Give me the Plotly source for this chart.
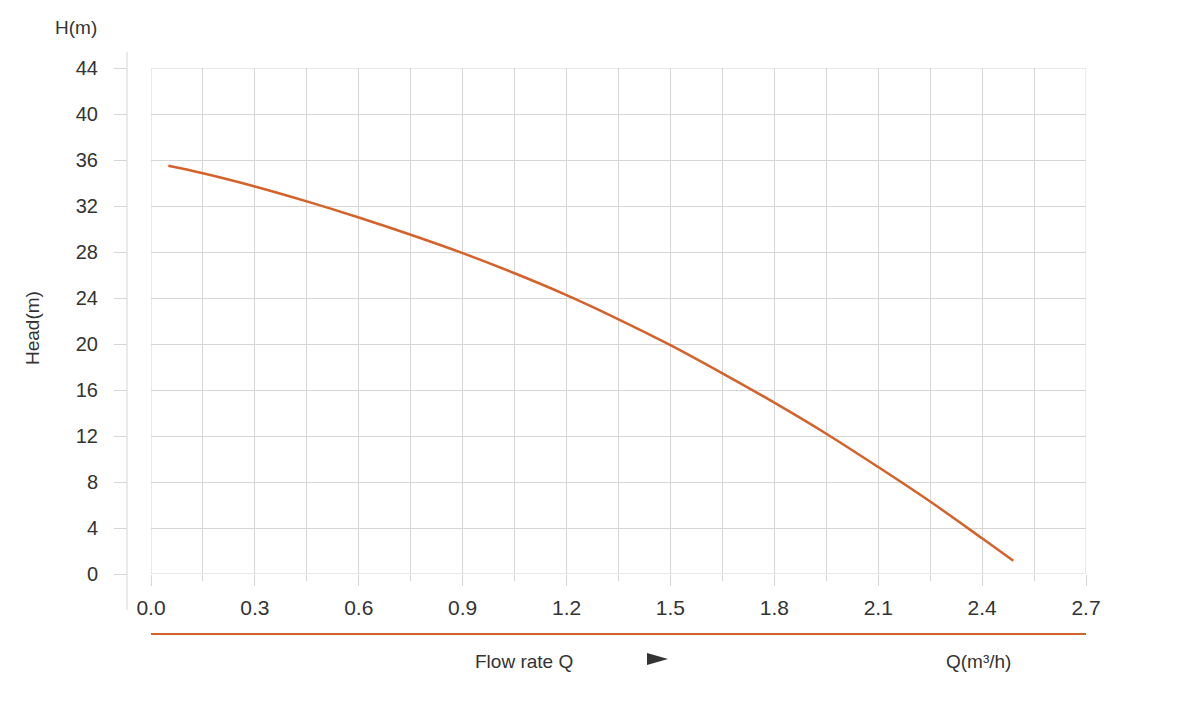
import plotly.graph_objects as go

# pump curve
flow_q = [0.05, 0.15, 0.30, 0.45, 0.60, 0.75, 0.90, 1.05, 1.20, 1.35,
          1.50, 1.65, 1.80, 1.95, 2.10, 2.25, 2.40, 2.49]
head_h = [35.5, 34.85, 33.7, 32.4, 31.0, 29.5, 27.9, 26.15, 24.25, 22.15,
          19.9, 17.45, 14.9, 12.2, 9.3, 6.3, 3.1, 1.15]

x_ticks = [0.0, 0.3, 0.6, 0.9, 1.2, 1.5, 1.8, 2.1, 2.4, 2.7]
y_ticks = [0, 4, 8, 12, 16, 20, 24, 28, 32, 36, 40, 44]

W, H = 1196, 722
OFF = 8  # page body margin shifts the figure by this much
ML, MR, MT, MB = 127 - OFF, 118, 68 - OFF, 156
PW = W - ML - MR
PH = H - MT - MB
ORANGE = "#d4622b"
GRID = "#d6d6d6"
TXT = "#333333"
FONT = "Liberation Sans"


# screen pixel -> paper coords
def px(x):
    return (x - OFF - ML) / PW


def py(y):
    return (H - MB - (y - OFF)) / PH


def label(text, x, y, **kw):
    return dict(text=text, xref="paper", yref="paper", x=px(x), y=py(y),
                xanchor="center", yanchor="middle", showarrow=False,
                font=dict(size=19, color=TXT), **kw)


def edge(**kw):
    return dict(type="line", layer="below", line=dict(color=GRID, width=1), **kw)


fig = go.Figure()
fig.add_trace(go.Scatter(
    x=flow_q, y=head_h, mode="lines", line=dict(color=ORANGE, width=2.5, shape="spline"),
    showlegend=False, hoverinfo="x+y",
))

fig.update_layout(
    width=W, height=H,
    margin=dict(l=ML, r=MR, t=MT, b=MB),
    paper_bgcolor="white", plot_bgcolor="white",
    font=dict(family=FONT, color=TXT),
    xaxis=dict(
        domain=[px(151), 1], range=[0, 2.7],
        tickvals=x_ticks, ticktext=[f"{v:.1f}" for v in x_ticks],
        showgrid=True, gridcolor=GRID, gridwidth=1,
        ticks="outside", ticklen=11, tickcolor=GRID, tickwidth=1,
        ticklabelstandoff=4,
        minor=dict(dtick=0.15, tick0=0, showgrid=True, gridcolor=GRID,
                   ticks="outside", ticklen=6, tickcolor=GRID),
        tickfont=dict(size=21, color=TXT),
        showline=False, zeroline=False, fixedrange=True,
    ),
    yaxis=dict(
        anchor="free", position=0, range=[0, 44],
        tickvals=y_ticks,
        showgrid=True, gridcolor=GRID, gridwidth=1,
        ticks="outside", ticklen=13, tickcolor=GRID, tickwidth=1,
        ticklabelstandoff=12,
        tickfont=dict(size=20, color=TXT),
        showline=False, zeroline=False, fixedrange=True,
    ),
    shapes=[
        # outer grid lines that plotly leaves out at the range edges
        edge(xref="x", yref="y", x0=0, x1=0, y0=0, y1=44),
        edge(xref="x", yref="y", x0=2.7, x1=2.7, y0=0, y1=44),
        edge(xref="x", yref="y", x0=0, x1=2.7, y0=0, y1=0),
        edge(xref="x", yref="y", x0=0, x1=2.7, y0=44, y1=44),
        # detached y axis line
        dict(type="line", xref="paper", yref="paper", x0=0, x1=0,
             y0=py(52), y1=py(610), line=dict(color=GRID, width=1)),
        # orange bar under the x labels
        dict(type="line", xref="paper", yref="paper", x0=px(151), x1=px(1086),
             y0=py(634), y1=py(634), line=dict(color=ORANGE, width=2)),
        # arrow head
        dict(type="path", xref="paper", yref="paper",
             path=f"M {px(647)} {py(653)} L {px(668)} {py(659)} L {px(647)} {py(665)} Z",
             fillcolor="#333333", line=dict(width=0)),
    ],
    annotations=[
        label("H(m)", 76, 27),
        label("Head(m)", 33, 328, textangle=-90),
        label("Flow rate Q", 524, 662),
        label("Q(m³/h)", 978, 661),
    ],
)

fig.write_html("out.html")
